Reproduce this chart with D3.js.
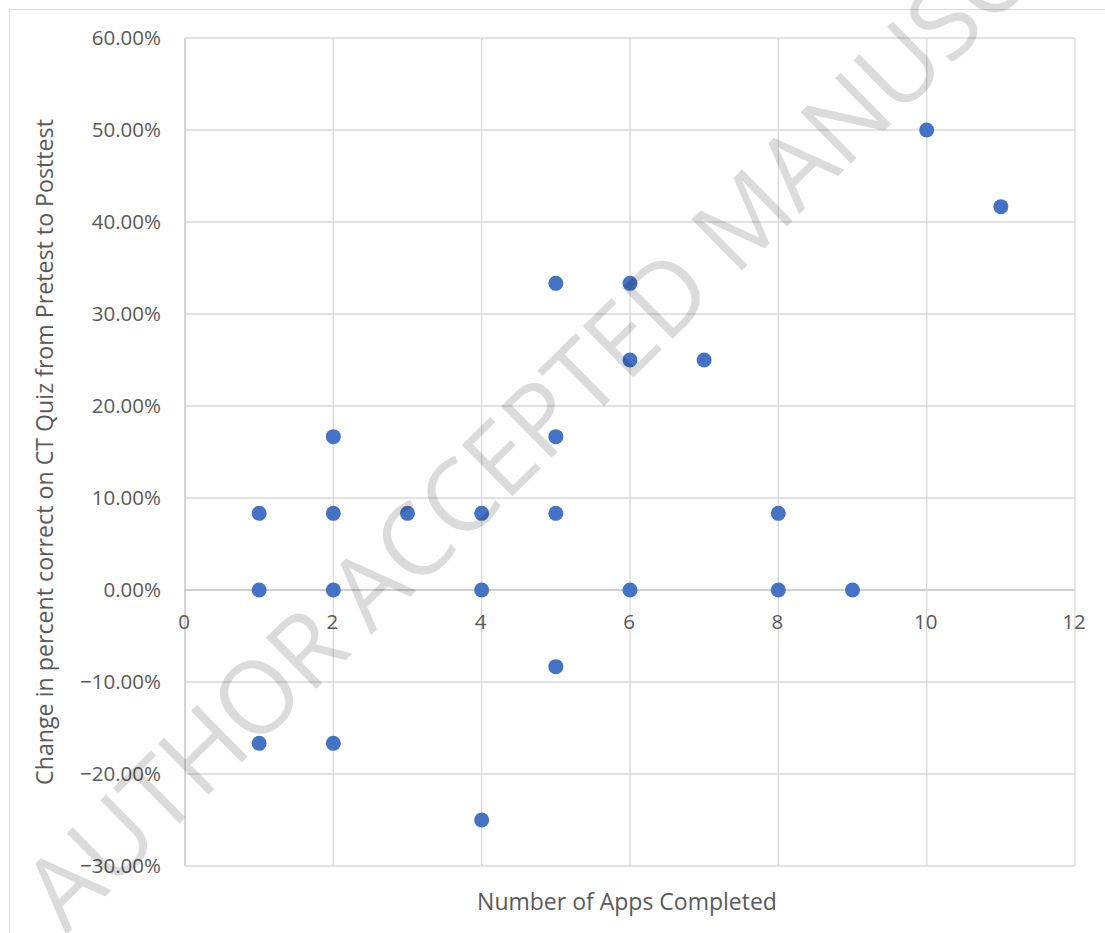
<!DOCTYPE html>
<html>
<head>
<meta charset="utf-8">
<script src="https://cdn.jsdelivr.net/npm/d3@7"></script>
<style>
  html, body { margin: 0; padding: 0; background: #fff; }
  svg { display: block; }
  text { font-family: "Open Sans", sans-serif; }
</style>
</head>
<body>
<svg id="chart" width="1105" height="933"></svg>
<script>
// ---- data ----
const appsCompleted = [1, 1, 1, 2, 2, 2, 2, 3, 4, 4, 4, 5, 5, 5, 5, 6, 6, 6, 7, 8, 8, 9, 10, 11];
const changePercent = [0.0833, 0, -0.1667, 0.1667, 0.0833, 0, -0.1667, 0.0833, 0.0833, 0, -0.25,
                       0.3333, 0.1667, 0.0833, -0.0833, 0.3333, 0.25, 0, 0.25, 0.0833, 0, 0, 0.50, 0.4167];
const xTicks = [0, 2, 4, 6, 8, 10, 12];
const yTicks = [-0.3, -0.2, -0.1, 0, 0.1, 0.2, 0.3, 0.4, 0.5, 0.6];
const xTitle = "Number of Apps Completed";
const yTitle = "Change in percent correct on CT Quiz from Pretest to Posttest";
const watermark = "AUTHOR ACCEPTED MANUSCRIPT";

const svg = d3.select("#chart");
const plot = { left: 185, right: 1075, top: 38, bottom: 866 };

const x = d3.scaleLinear().domain([0, 12]).range([plot.left, plot.right]);
const y = d3.scaleLinear().domain([-0.3, 0.6]).range([plot.bottom, plot.top]);

// outer chart border
svg.append("rect")
  .attr("x", 9.5).attr("y", 9.5)
  .attr("width", 1300).attr("height", 1200)
  .attr("fill", "none").attr("stroke", "#d9d9d9").attr("stroke-width", 1);

const gridColor = "#d9d9d9";
const axisColor = "#bfbfbf";

// horizontal gridlines
svg.append("g").selectAll("line").data(yTicks).join("line")
  .attr("x1", plot.left).attr("x2", plot.right)
  .attr("y1", d => y(d)).attr("y2", d => y(d))
  .attr("stroke", d => d === 0 ? axisColor : gridColor)
  .attr("stroke-width", 1.3);

// vertical gridlines
svg.append("g").selectAll("line").data(xTicks).join("line")
  .attr("x1", d => x(d)).attr("x2", d => x(d))
  .attr("y1", plot.top).attr("y2", plot.bottom)
  .attr("stroke", d => d === 0 ? axisColor : gridColor)
  .attr("stroke-width", 1.3);

// y tick labels
const fmt = d3.format(".2%");
svg.append("g").selectAll("text").data(yTicks).join("text")
  .attr("x", plot.left - 24)
  .attr("y", d => y(d) + 7.3)
  .attr("text-anchor", "end")
  .attr("font-size", 20.5)
  .attr("fill", "#595959")
  .text(d => fmt(d));

// x tick labels (axis crosses at 0)
svg.append("g").selectAll("text").data(xTicks).join("text")
  .attr("x", d => x(d) - 1)
  .attr("y", y(0) + 39)
  .attr("text-anchor", "middle")
  .attr("font-size", 20.5)
  .attr("fill", "#595959")
  .text(d => d);

// axis titles
svg.append("text")
  .attr("x", (plot.left + plot.right) / 2 - 3)
  .attr("y", 910)
  .attr("text-anchor", "middle")
  .attr("font-size", 23)
  .attr("fill", "#595959")
  .text(xTitle);

svg.append("text")
  .attr("transform", `translate(53, ${(plot.top + plot.bottom) / 2}) rotate(-90)`)
  .attr("text-anchor", "middle")
  .attr("font-size", 23.2)
  .attr("fill", "#595959")
  .text(yTitle);

// points
const pts = appsCompleted.map((a, i) => ({ a, c: changePercent[i] }));
svg.append("g").selectAll("circle").data(pts).join("circle")
  .attr("cx", d => x(d.a))
  .attr("cy", d => y(d.c))
  .attr("r", 7.5)
  .attr("fill", "#4472C4");

// watermark
svg.append("text")
  .attr("transform", "translate(66, 935) rotate(-44.5)")
  .attr("font-size", 101)
  .attr("letter-spacing", -1)
  .attr("fill", "rgba(0,0,0,0.14)")
  .text(watermark);
</script>
</body>
</html>
